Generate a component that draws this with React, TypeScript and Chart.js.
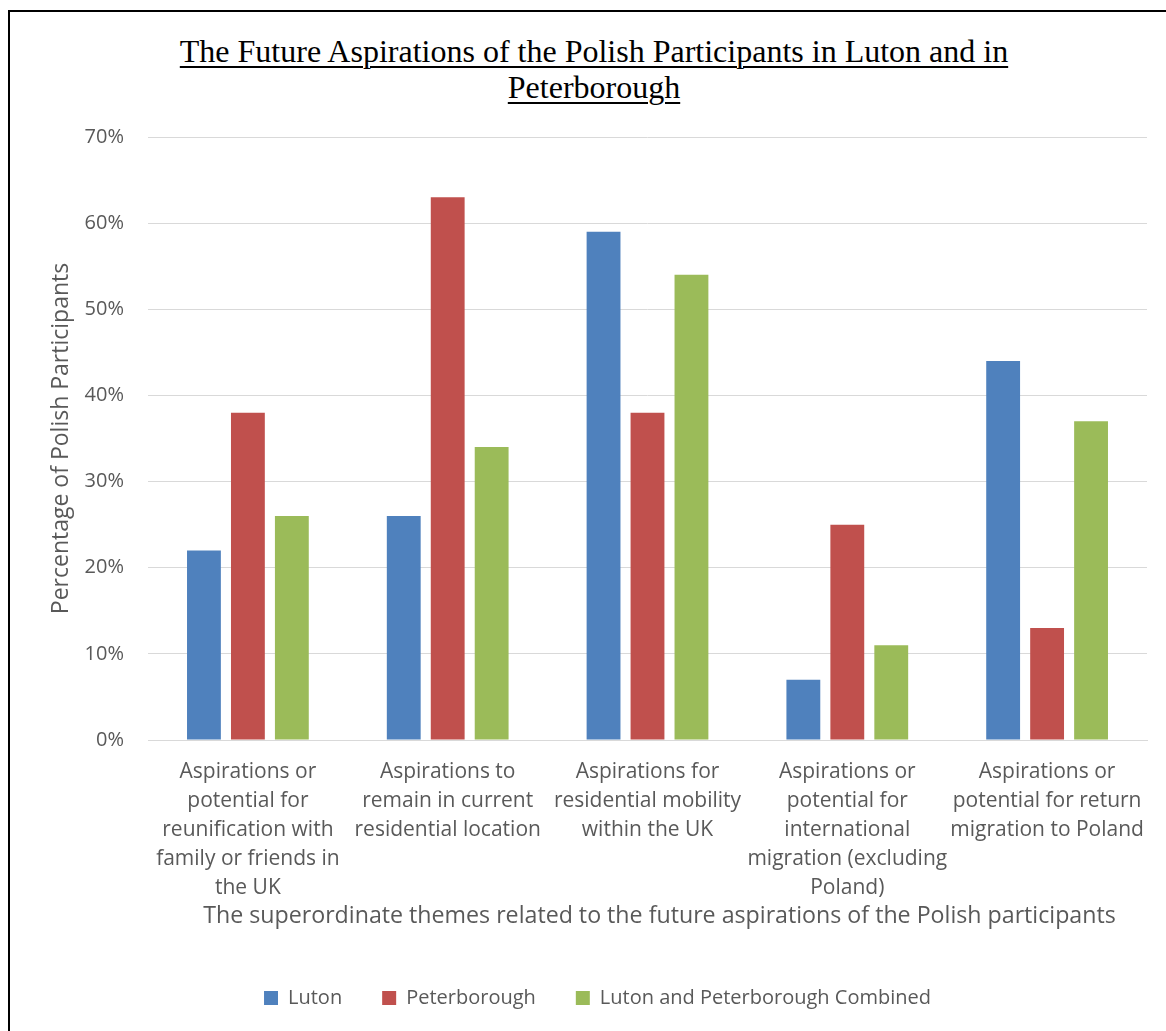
import React, { useEffect, useRef } from "react";
import { Chart, registerables } from "chart.js";

Chart.register(...registerables);

const titleLines = [
  "The Future Aspirations of the Polish Participants in Luton and in",
  "Peterborough",
];

const categories: string[][] = [
  ["Aspirations or", "potential for", "reunification with", "family or friends in", "the UK"],
  ["Aspirations to", "remain in current", "residential location"],
  ["Aspirations for", "residential mobility", "within the UK"],
  ["Aspirations or", "potential for", "international", "migration (excluding", "Poland)"],
  ["Aspirations or", "potential for return", "migration to Poland"],
];

const seriesNames = ["Luton", "Peterborough", "Luton and Peterborough Combined"];
const lutonValues = [22, 26, 59, 7, 44];
const peterboroughValues = [38, 63, 38, 25, 13];
const combinedValues = [26, 34, 54, 11, 37];
const seriesColors = ["#4F81BD", "#C0504D", "#9BBB59"];

const yAxisTitle = "Percentage of Polish Participants";
const xAxisTitle =
  "The superordinate themes related to the future aspirations of the Polish participants";
const yMax = 70;
const yStep = 10;

const SANS = "'Open Sans', 'DejaVu Sans', sans-serif";
const TEXT_GREY = "#595959";
const GRID = "#D9D9D9";

// Draws the x-axis title slightly right of the plot centre, as in the original.
const xTitlePlugin = {
  id: "xTitleShifted",
  afterDraw(chart: any) {
    const xs = chart.scales.x;
    const ctx = chart.ctx;
    ctx.save();
    ctx.font = `23.2px ${SANS}`;
    ctx.fillStyle = TEXT_GREY;
    ctx.textAlign = "center";
    ctx.textBaseline = "middle";
    ctx.fillText(xAxisTitle, (xs.left + xs.right) / 2 + 12, xs.bottom - 32);
    ctx.restore();
  },
};

export default function App() {
  const canvasRef = useRef<HTMLCanvasElement | null>(null);

  useEffect(() => {
    if (!canvasRef.current) return;
    const chart = new Chart(canvasRef.current, {
      type: "bar",
      data: {
        labels: categories,
        datasets: [
          { label: seriesNames[0], data: lutonValues, backgroundColor: seriesColors[0] },
          { label: seriesNames[1], data: peterboroughValues, backgroundColor: seriesColors[1] },
          { label: seriesNames[2], data: combinedValues, backgroundColor: seriesColors[2] },
        ],
      },
      plugins: [xTitlePlugin],
      options: {
        animation: false,
        responsive: false,
        devicePixelRatio: 1,
        layout: { padding: { top: 125, right: 19, bottom: 0, left: 38 } },
        datasets: {
          bar: { categoryPercentage: 0.66, barPercentage: 0.77 },
        },
        plugins: {
          title: { display: false },
          tooltip: { enabled: false },
          legend: {
            position: "bottom",
            labels: {
              boxWidth: 14,
              boxHeight: 14,
              padding: 40,
              color: TEXT_GREY,
              font: { family: SANS, size: 20 },
            },
          },
        },
        scales: {
          x: {
            grid: { display: false, drawTicks: false },
            border: { display: true, color: GRID, width: 1 },
            ticks: {
              color: TEXT_GREY,
              padding: 17,
              maxRotation: 0,
              autoSkip: false,
              font: { family: SANS, size: 21, lineHeight: 1.39 },
            },
            title: { display: false },
            afterFit: (scale: any) => {
              scale.height = 208;
            },
          },
          y: {
            min: 0,
            max: yMax,
            grid: { color: GRID, lineWidth: 1, drawTicks: false },
            border: { display: false },
            ticks: {
              stepSize: yStep,
              color: TEXT_GREY,
              padding: 24,
              font: { family: SANS, size: 20 },
              callback: (v: any) => v + "%",
            },
            title: {
              display: true,
              text: yAxisTitle,
              color: TEXT_GREY,
              padding: { top: 0, bottom: 0 },
              font: { family: SANS, size: 23, lineHeight: 1.2 },
            },
            afterFit: (scale: any) => {
              scale.width = 100;
            },
          },
        },
      },
    });
    return () => chart.destroy();
  }, []);

  return (
    <div
      style={{
        position: "fixed",
        left: 8,
        top: 10,
        width: 1220,
        height: 1100,
        border: "2px solid #000",
        background: "#fff",
      }}
    >
      <div
        style={{
          position: "absolute",
          left: 0,
          top: 21,
          width: 1168,
          textAlign: "center",
          fontFamily: "'Liberation Serif', 'Times New Roman', serif",
          fontSize: 32,
          lineHeight: "36px",
          color: "#000",
          textDecoration: "underline",
          textDecorationThickness: "2px",
          textUnderlineOffset: "4px",
        }}
      >
        {titleLines[0]}
        <br />
        {titleLines[1]}
      </div>
      <canvas
        ref={canvasRef}
        width={1156}
        height={1006}
        style={{ position: "absolute", left: 0, top: 0, width: 1156, height: 1006 }}
      />
    </div>
  );
}
